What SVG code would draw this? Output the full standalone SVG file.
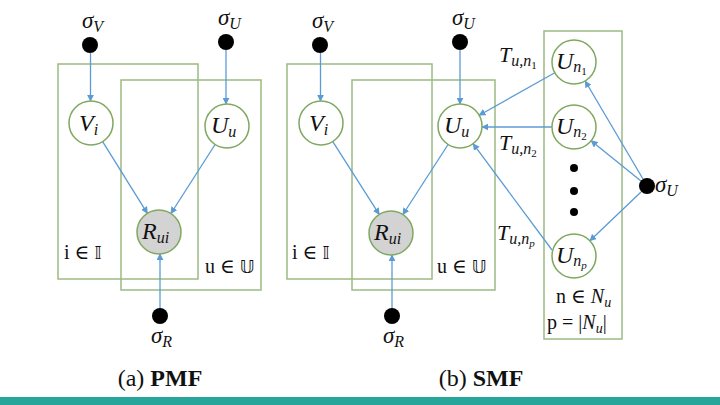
<svg xmlns="http://www.w3.org/2000/svg" width="720" height="405" viewBox="0 0 720 405">
<defs>
<marker id="ah" viewBox="0 0 10 10" refX="9" refY="5" markerWidth="7" markerHeight="7" markerUnits="userSpaceOnUse" orient="auto">
<path d="M0,0 L10,5 L0,10 z" fill="#5b9bd5"/>
</marker>
<style>
.plate{fill:none;stroke:#9cba84;stroke-width:1.5}
.node{fill:#fff;stroke:#80a860;stroke-width:1.5}
.obs{fill:#d3d3d3;stroke:#80a860;stroke-width:1.5}
.hyp{fill:#000}
.e{stroke:#5b9bd5;stroke-width:1.3;fill:none;marker-end:url(#ah)}
.m{font-style:italic;fill:#111}
.r{fill:#111}
</style>
</defs>
<rect width="720" height="405" fill="#fff"/>

<g id="plates">
<rect class="plate" x="58" y="64" width="140" height="215"/>
<rect class="plate" x="121" y="80" width="140" height="210"/>
<rect class="plate" x="287" y="64" width="145" height="215"/>
<rect class="plate" x="352" y="80" width="143" height="210"/>
<rect class="plate" x="544" y="31" width="78" height="308"/>
</g>

<g id="connectors">
<line class="e" x1="90.5" y1="53" x2="90.5" y2="101"/>
<line class="e" x1="226" y1="50" x2="226" y2="104"/>
<line class="e" x1="102.6" y1="141.7" x2="147.4" y2="213.3"/>
<line class="e" x1="215.1" y1="144.5" x2="170.9" y2="213.5"/>
<line class="e" x1="160" y1="308" x2="160" y2="254"/>

<line class="e" x1="320.5" y1="53" x2="320.5" y2="101"/>
<line class="e" x1="460" y1="50" x2="460" y2="104"/>
<line class="e" x1="332.8" y1="141.6" x2="379.2" y2="214.4"/>
<line class="e" x1="448.1" y1="144.5" x2="402.9" y2="214.5"/>
<line class="e" x1="392" y1="308" x2="392" y2="255"/>

<line class="e" x1="554.8" y1="72.8" x2="479.2" y2="115.2"/>
<line class="e" x1="552" y1="127" x2="482" y2="127"/>
<line class="e" x1="552" y1="250" x2="473.1" y2="143.7"/>
<line class="e" x1="643" y1="179" x2="585.2" y2="81"/>
<line class="e" x1="641" y1="181" x2="591.1" y2="140.8"/>
<line class="e" x1="641" y1="192" x2="589.9" y2="240.8"/>
</g>

<g font-family="'Liberation Serif', 'DejaVu Serif', serif">
<!-- PMF -->
<g id="pmf-sigmaV"><circle class="hyp" cx="90" cy="45" r="8"/><text class="m" x="82" y="28" font-size="23">σ<tspan font-size="16" dy="4">V</tspan></text></g>
<g id="pmf-sigmaU"><circle class="hyp" cx="226" cy="42" r="8"/><text class="m" x="218" y="25" font-size="23">σ<tspan font-size="16" dy="4">U</tspan></text></g>
<g id="pmf-Vi"><circle class="node" cx="91" cy="123" r="22"/><text class="m" x="79" y="131" font-size="24">V<tspan font-size="16" dy="4">i</tspan></text></g>
<g id="pmf-Uu"><circle class="node" cx="227" cy="126" r="22"/><text class="m" x="211" y="133" font-size="24">U<tspan font-size="16" dy="4">u</tspan></text></g>
<g id="pmf-Rui"><circle class="obs" cx="159" cy="232" r="22"/><text class="m" x="142" y="239" font-size="24">R<tspan font-size="16" dy="4">ui</tspan></text></g>
<g id="pmf-sigmaR"><circle class="hyp" cx="160" cy="316" r="8"/><text class="m" x="151" y="343" font-size="23">σ<tspan font-size="16" dy="4">R</tspan></text></g>
<text class="r" x="64" y="259" font-size="20">i ∈ <tspan font-family="'DejaVu Sans', sans-serif" font-size="18">𝕀</tspan></text>
<text class="r" x="205" y="273" font-size="20">u ∈ <tspan font-family="'DejaVu Sans', sans-serif" font-size="18">𝕌</tspan></text>
<text class="r" x="160" y="386" font-size="24" text-anchor="middle">(a) <tspan font-weight="bold">PMF</tspan></text>

<!-- SMF -->
<g id="smf-sigmaV"><circle class="hyp" cx="320" cy="45" r="8"/><text class="m" x="312" y="28" font-size="23">σ<tspan font-size="16" dy="4">V</tspan></text></g>
<g id="smf-sigmaU"><circle class="hyp" cx="460" cy="42" r="8"/><text class="m" x="452" y="25" font-size="23">σ<tspan font-size="16" dy="4">U</tspan></text></g>
<g id="smf-Vi"><circle class="node" cx="321" cy="123" r="22"/><text class="m" x="309" y="131" font-size="24">V<tspan font-size="16" dy="4">i</tspan></text></g>
<g id="smf-Uu"><circle class="node" cx="460" cy="126" r="22"/><text class="m" x="444" y="133" font-size="24">U<tspan font-size="16" dy="4">u</tspan></text></g>
<g id="smf-Rui"><circle class="obs" cx="391" cy="233" r="22"/><text class="m" x="374" y="240" font-size="24">R<tspan font-size="16" dy="4">ui</tspan></text></g>
<g id="smf-sigmaR"><circle class="hyp" cx="392" cy="316" r="8"/><text class="m" x="383" y="343" font-size="23">σ<tspan font-size="16" dy="4">R</tspan></text></g>
<text class="r" x="292" y="259" font-size="20">i ∈ <tspan font-family="'DejaVu Sans', sans-serif" font-size="18">𝕀</tspan></text>
<text class="r" x="437" y="273" font-size="20">u ∈ <tspan font-family="'DejaVu Sans', sans-serif" font-size="18">𝕌</tspan></text>

<g id="smf-Un1"><circle class="node" cx="574" cy="62" r="22"/><text class="m" x="556" y="69" font-size="24">U<tspan font-size="16" dy="3">n</tspan><tspan font-size="11" font-style="normal" dy="3">1</tspan></text></g>
<g id="smf-Un2"><circle class="node" cx="574" cy="127" r="22"/><text class="m" x="556" y="134" font-size="24">U<tspan font-size="16" dy="3">n</tspan><tspan font-size="11" font-style="normal" dy="3">2</tspan></text></g>
<g id="smf-dots"><circle class="hyp" cx="574" cy="168" r="4"/><circle class="hyp" cx="574" cy="191" r="4"/><circle class="hyp" cx="574" cy="212" r="4"/></g>
<g id="smf-Unp"><circle class="node" cx="574" cy="256" r="22"/><text class="m" x="556" y="263" font-size="24">U<tspan font-size="16" dy="3">n</tspan><tspan font-size="11" dy="3">p</tspan></text></g>
<g id="smf-sigmaU2"><circle class="hyp" cx="647" cy="186" r="8"/><text class="m" x="655" y="192" font-size="23">σ<tspan font-size="16" dy="4">U</tspan></text></g>

<text class="m" x="499" y="62" font-size="22">T<tspan font-size="16" dy="4">u,n</tspan><tspan font-size="11" font-style="normal" dy="3">1</tspan></text>
<text class="m" x="499" y="150" font-size="22">T<tspan font-size="16" dy="4">u,n</tspan><tspan font-size="11" font-style="normal" dy="3">2</tspan></text>
<text class="m" x="497" y="240" font-size="22">T<tspan font-size="16" dy="4">u,n</tspan><tspan font-size="11" dy="3">p</tspan></text>
<text class="r" x="556" y="303" font-size="20">n ∈ <tspan font-style="italic">N</tspan><tspan font-style="italic" font-size="14" dy="4">u</tspan></text>
<text class="r" x="547" y="329" font-size="20">p = |<tspan font-style="italic">N</tspan><tspan font-style="italic" font-size="14" dy="4">u</tspan><tspan dy="-4">|</tspan></text>
<text class="r" x="481" y="386" font-size="24" text-anchor="middle">(b) <tspan font-weight="bold">SMF</tspan></text>
</g>

<rect x="0" y="397" width="720" height="8" fill="#26a69a"/>
</svg>
